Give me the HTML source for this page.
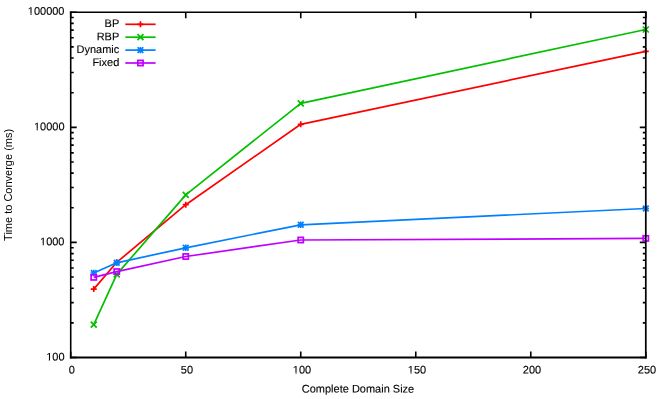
<!DOCTYPE html>
<html><head><meta charset="utf-8"><title>chart</title>
<style>html,body{margin:0;padding:0;background:#fff}svg{display:block}text{font-family:"Liberation Sans",sans-serif;font-size:11px;fill:#000;stroke:#000;stroke-width:0.12px}</style></head><body>
<svg width="664" height="399" viewBox="0 0 664 399">
<rect width="664" height="399" fill="#fff"/>
<path d="M125.3 24.3H155.6" stroke="#ff0000" stroke-width="1.7" fill="none"/>
<path d="M137.45 24.30H143.45M140.45 21.30V27.30" stroke="#ff0000" stroke-width="1.7" fill="none"/>
<path d="M125.3 37.2H155.6" stroke="#00c000" stroke-width="1.7" fill="none"/>
<path d="M137.45 34.20L143.45 40.20M137.45 40.20L143.45 34.20" stroke="#00c000" stroke-width="1.7" fill="none"/>
<path d="M125.3 50.1H155.6" stroke="#0080ff" stroke-width="1.7" fill="none"/>
<path d="M137.25 50.10H143.65M140.45 46.90V53.30" stroke="#0080ff" stroke-width="1.7" fill="none"/><path d="M137.60 47.25L143.30 52.95M137.60 52.95L143.30 47.25" stroke="#0080ff" stroke-width="1.7" fill="none"/>
<path d="M125.3 63.0H155.6" stroke="#c000ff" stroke-width="1.7" fill="none"/>
<rect x="137.83" y="60.38" width="5.24" height="5.24" stroke="#c000ff" stroke-width="1.7" fill="none"/>
<path d="M70.72 357.50h6M645.8 357.50h-6M70.72 322.86h3.0M645.8 322.86h-3.0M70.72 302.59h3.0M645.8 302.59h-3.0M70.72 288.22h3.0M645.8 288.22h-3.0M70.72 277.06h3.0M645.8 277.06h-3.0M70.72 267.95h3.0M645.8 267.95h-3.0M70.72 260.25h3.0M645.8 260.25h-3.0M70.72 253.58h3.0M645.8 253.58h-3.0M70.72 247.69h3.0M645.8 247.69h-3.0M70.72 242.42h6M645.8 242.42h-6M70.72 207.78h3.0M645.8 207.78h-3.0M70.72 187.52h3.0M645.8 187.52h-3.0M70.72 173.14h3.0M645.8 173.14h-3.0M70.72 161.99h3.0M645.8 161.99h-3.0M70.72 152.88h3.0M645.8 152.88h-3.0M70.72 145.17h3.0M645.8 145.17h-3.0M70.72 138.50h3.0M645.8 138.50h-3.0M70.72 132.61h3.0M645.8 132.61h-3.0M70.72 127.35h6M645.8 127.35h-6M70.72 92.71h3.0M645.8 92.71h-3.0M70.72 72.44h3.0M645.8 72.44h-3.0M70.72 58.06h3.0M645.8 58.06h-3.0M70.72 46.91h3.0M645.8 46.91h-3.0M70.72 37.80h3.0M645.8 37.80h-3.0M70.72 30.10h3.0M645.8 30.10h-3.0M70.72 23.42h3.0M645.8 23.42h-3.0M70.72 17.54h3.0M645.8 17.54h-3.0M70.72 12.27h6M645.8 12.27h-6M70.72 357.5v-6M70.72 12.27v6M185.74 357.5v-6M185.74 12.27v6M300.75 357.5v-6M300.75 12.27v6M415.77 357.5v-6M415.77 12.27v6M530.78 357.5v-6M530.78 12.27v6M645.80 357.5v-6M645.80 12.27v6" stroke="#000" stroke-width="1.6" fill="none"/>
<polyline points="93.75,289.1 116.75,262.3 185.75,204.7 300.75,124.3 645.8,51.35" stroke="#ff0000" stroke-width="1.7" fill="none" stroke-linejoin="round"/>
<path d="M90.75 289.10H96.75M93.75 286.10V292.10" stroke="#ff0000" stroke-width="1.7" fill="none"/>
<path d="M113.75 262.30H119.75M116.75 259.30V265.30" stroke="#ff0000" stroke-width="1.7" fill="none"/>
<path d="M182.75 204.70H188.75M185.75 201.70V207.70" stroke="#ff0000" stroke-width="1.7" fill="none"/>
<path d="M297.75 124.30H303.75M300.75 121.30V127.30" stroke="#ff0000" stroke-width="1.7" fill="none"/>
<path d="M642.80 51.35H648.80M645.80 48.35V54.35" stroke="#ff0000" stroke-width="1.7" fill="none"/>
<polyline points="93.75,324.7 116.75,274.4 185.75,194.9 300.75,103.3 645.8,29.5" stroke="#00c000" stroke-width="1.7" fill="none" stroke-linejoin="round"/>
<path d="M90.75 321.70L96.75 327.70M90.75 327.70L96.75 321.70" stroke="#00c000" stroke-width="1.7" fill="none"/>
<path d="M113.75 271.40L119.75 277.40M113.75 277.40L119.75 271.40" stroke="#00c000" stroke-width="1.7" fill="none"/>
<path d="M182.75 191.90L188.75 197.90M182.75 197.90L188.75 191.90" stroke="#00c000" stroke-width="1.7" fill="none"/>
<path d="M297.75 100.30L303.75 106.30M297.75 106.30L303.75 100.30" stroke="#00c000" stroke-width="1.7" fill="none"/>
<path d="M642.80 26.50L648.80 32.50M642.80 32.50L648.80 26.50" stroke="#00c000" stroke-width="1.7" fill="none"/>
<polyline points="93.75,273.0 116.75,262.8 185.75,247.8 300.75,224.8 645.8,208.5" stroke="#0080ff" stroke-width="1.7" fill="none" stroke-linejoin="round"/>
<path d="M90.55 273.00H96.95M93.75 269.80V276.20" stroke="#0080ff" stroke-width="1.7" fill="none"/><path d="M90.90 270.15L96.60 275.85M90.90 275.85L96.60 270.15" stroke="#0080ff" stroke-width="1.7" fill="none"/>
<path d="M113.55 262.80H119.95M116.75 259.60V266.00" stroke="#0080ff" stroke-width="1.7" fill="none"/><path d="M113.90 259.95L119.60 265.65M113.90 265.65L119.60 259.95" stroke="#0080ff" stroke-width="1.7" fill="none"/>
<path d="M182.55 247.80H188.95M185.75 244.60V251.00" stroke="#0080ff" stroke-width="1.7" fill="none"/><path d="M182.90 244.95L188.60 250.65M182.90 250.65L188.60 244.95" stroke="#0080ff" stroke-width="1.7" fill="none"/>
<path d="M297.55 224.80H303.95M300.75 221.60V228.00" stroke="#0080ff" stroke-width="1.7" fill="none"/><path d="M297.90 221.95L303.60 227.65M297.90 227.65L303.60 221.95" stroke="#0080ff" stroke-width="1.7" fill="none"/>
<path d="M642.60 208.50H649.00M645.80 205.30V211.70" stroke="#0080ff" stroke-width="1.7" fill="none"/><path d="M642.95 205.65L648.65 211.35M642.95 211.35L648.65 205.65" stroke="#0080ff" stroke-width="1.7" fill="none"/>
<polyline points="93.75,277.35 116.75,271.6 185.75,256.5 300.75,240.0 645.8,238.4" stroke="#c000ff" stroke-width="1.7" fill="none" stroke-linejoin="round"/>
<rect x="91.13" y="274.73" width="5.24" height="5.24" stroke="#c000ff" stroke-width="1.7" fill="none"/>
<rect x="114.13" y="268.98" width="5.24" height="5.24" stroke="#c000ff" stroke-width="1.7" fill="none"/>
<rect x="183.13" y="253.88" width="5.24" height="5.24" stroke="#c000ff" stroke-width="1.7" fill="none"/>
<rect x="298.13" y="237.38" width="5.24" height="5.24" stroke="#c000ff" stroke-width="1.7" fill="none"/>
<rect x="643.18" y="235.78" width="5.24" height="5.24" stroke="#c000ff" stroke-width="1.7" fill="none"/>
<path d="M69.92 12.27H646.66" stroke="#000" stroke-width="1.55" fill="none"/>
<path d="M69.92 357.52H646.66" stroke="#000" stroke-width="1.85" fill="none"/>
<path d="M70.71 11.49V358.42" stroke="#000" stroke-width="1.58" fill="none"/>
<path d="M645.79 11.49V358.42" stroke="#000" stroke-width="1.72" fill="none"/>
<g style="filter:grayscale(1)"><text transform="matrix(1,0.0005,0,1,119.30,27.10)" text-anchor="end">BP</text><text transform="matrix(1,0.0005,0,1,119.30,40.20)" text-anchor="end">RBP</text><text transform="matrix(1,0.0005,0,1,119.30,53.10)" text-anchor="end">Dynamic</text><text transform="matrix(1,0.0005,0,1,119.30,66.00)" text-anchor="end">Fixed</text><text transform="matrix(1,0.0005,0,1,64.50,360.40)" text-anchor="end">100</text><rect x="45.85" y="358.70" width="2.94" height="2.5" fill="#fff" stroke="none"/><rect x="50.01" y="358.70" width="2.2" height="2.5" fill="#fff" stroke="none"/><text transform="matrix(1,0.0005,0,1,64.50,245.32)" text-anchor="end">1000</text><rect x="39.73" y="243.62" width="2.94" height="2.5" fill="#fff" stroke="none"/><rect x="43.89" y="243.62" width="2.2" height="2.5" fill="#fff" stroke="none"/><text transform="matrix(1,0.0005,0,1,64.50,130.25)" text-anchor="end">10000</text><rect x="33.61" y="128.55" width="2.94" height="2.5" fill="#fff" stroke="none"/><rect x="37.77" y="128.55" width="2.2" height="2.5" fill="#fff" stroke="none"/><text transform="matrix(1,0.0005,0,1,64.50,14.87)" text-anchor="end">100000</text><rect x="27.49" y="13.17" width="2.94" height="2.5" fill="#fff" stroke="none"/><rect x="31.65" y="13.17" width="2.2" height="2.5" fill="#fff" stroke="none"/><text transform="matrix(1,0.0005,0,1,71.92,373.60)" text-anchor="middle">0</text><text transform="matrix(1,0.0005,0,1,186.94,373.60)" text-anchor="middle">50</text><text transform="matrix(1,0.0005,0,1,301.95,373.60)" text-anchor="middle">100</text><rect x="292.48" y="371.90" width="2.94" height="2.5" fill="#fff" stroke="none"/><rect x="296.64" y="371.90" width="2.2" height="2.5" fill="#fff" stroke="none"/><text transform="matrix(1,0.0005,0,1,416.97,373.60)" text-anchor="middle">150</text><rect x="407.49" y="371.90" width="2.94" height="2.5" fill="#fff" stroke="none"/><rect x="411.65" y="371.90" width="2.2" height="2.5" fill="#fff" stroke="none"/><text transform="matrix(1,0.0005,0,1,531.98,373.60)" text-anchor="middle">200</text><text transform="matrix(1,0.0005,0,1,647.00,373.60)" text-anchor="middle">250</text><text transform="matrix(1,0.0005,0,1,358.00,392.60)" text-anchor="middle">Complete Domain Size</text><text transform="translate(12.3,184.9) rotate(-90)" text-anchor="middle" style="stroke-width:0">Time to Converge (ms)</text></g>
</svg></body></html>
